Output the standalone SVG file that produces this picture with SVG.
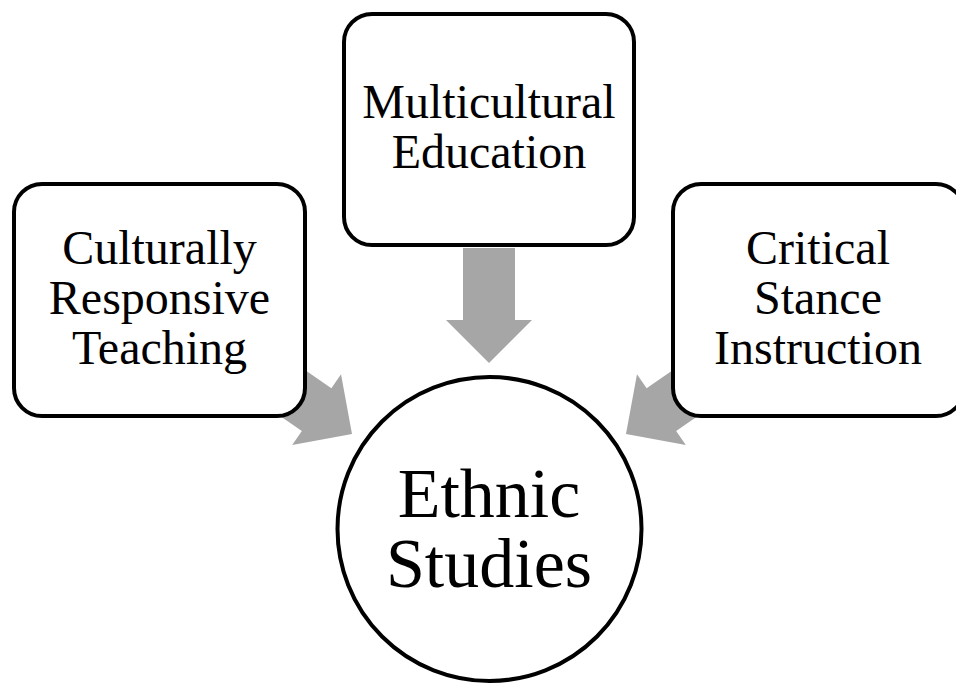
<svg xmlns="http://www.w3.org/2000/svg" width="956" height="684" viewBox="0 0 956 684">
  <defs>
    <style>
      .box { fill: #ffffff; stroke: #000000; stroke-width: 4; }
      .arrow { fill: #A6A6A6; stroke: none; }
      .lbl { font-family: "Liberation Serif", "Times New Roman", serif; font-size: 48px; fill: #000000; text-anchor: middle; }
      .big { font-size: 70px; }
    </style>
    <path id="arr" d="M -26 -115 L 26 -115 L 26 -43 L 43 -43 L 0 0 L -43 -43 L -26 -43 Z"/>
  </defs>
  <rect width="956" height="684" fill="#ffffff"/>
  <g id="connectors">
    <use href="#arr" class="arrow" transform="translate(489,363)"/>
    <use href="#arr" class="arrow" transform="translate(352,434) rotate(-55.4)"/>
    <use href="#arr" class="arrow" transform="translate(626,434) rotate(55.4)"/>
  </g>
  <g id="node-crt">
    <rect class="box" x="14" y="184" width="291" height="232" rx="28" ry="28"/>
    <text class="lbl" x="159.5" y="264">Culturally</text>
    <text class="lbl" x="159.5" y="314">Responsive</text>
    <text class="lbl" x="159.5" y="364">Teaching</text>
  </g>
  <g id="node-me">
    <rect class="box" x="344" y="14" width="290" height="231" rx="28" ry="28"/>
    <text class="lbl" x="489" y="118">Multicultural</text>
    <text class="lbl" x="489" y="168">Education</text>
  </g>
  <g id="node-csi">
    <rect class="box" x="673" y="184" width="291" height="232" rx="28" ry="28"/>
    <text class="lbl" x="818" y="264">Critical</text>
    <text class="lbl" x="818" y="314">Stance</text>
    <text class="lbl" x="818" y="364">Instruction</text>
  </g>
  <g id="node-es">
    <circle class="box" cx="489.5" cy="529" r="152"/>
    <text class="lbl big" x="489" y="517">Ethnic</text>
    <text class="lbl big" x="489" y="587">Studies</text>
  </g>
</svg>
